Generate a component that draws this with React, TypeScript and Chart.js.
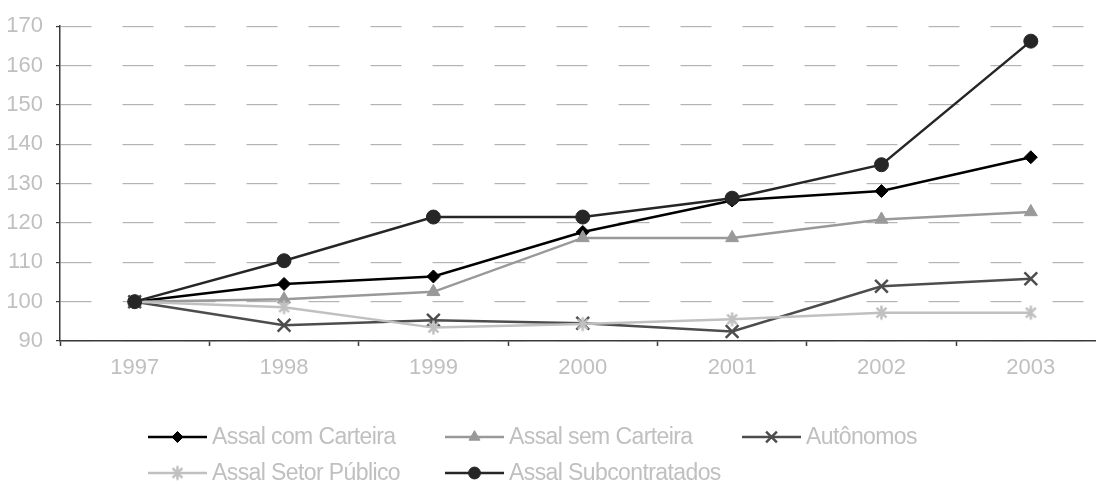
import React, { useEffect, useRef } from "react";
import { Chart, registerables } from "chart.js";
import { drawPoint } from "chart.js/helpers";

Chart.register(...registerables);

// Index values (1997 = 100)
const years = ["1997", "1998", "1999", "2000", "2001", "2002", "2003"];
const comCarteira = [100, 104.5, 106.4, 117.7, 125.7, 128.1, 136.7];
const semCarteira = [100, 100.6, 102.5, 116.2, 116.2, 120.9, 122.8];
const autonomos = [100, 94.0, 95.3, 94.5, 92.4, 103.9, 105.8];
const setorPublico = [100, 98.6, 93.4, 94.3, 95.5, 97.2, 97.2];
const subcontratados = [100, 110.4, 121.5, 121.5, 126.3, 134.8, 166.2];

const seriesNames = [
  "Assal com Carteira",
  "Assal sem Carteira",
  "Autônomos",
  "Assal Setor Público",
  "Assal Subcontratados",
];
const seriesValues = [comCarteira, semCarteira, autonomos, setorPublico, subcontratados];
const seriesColors = ["#000000", "#999999", "#4d4d4d", "#c0c0c0", "#262626"];
const seriesMarkers = ["rectRot", "triangle", "crossRot", "asterisk", "circle"];
const markerSizes = [6.5, 7.5, 9, 7, 7];

const yMin = 90;
const yMax = 170;
const yStep = 10;

const FONT = "'Liberation Sans', Arial, sans-serif";
const TEXT_COLOR = "#c0c0c0";
const AXIS_COLOR = "#3a3a3a";

// legend grid: three columns, two rows
const LEGEND_COLS = [148, 445, 742];
const LEGEND_ROWS = [437, 473];
const LEGEND_LINE = 59;

// asterisk marker (an "x" crossed by a vertical stroke)
function makeAsterisk(color: string, r: number, w: number) {
  const s = Math.ceil(2 * r + w + 2);
  const c = document.createElement("canvas");
  c.width = s;
  c.height = s;
  const g = c.getContext("2d")!;
  const m = s / 2;
  const d = r * Math.SQRT1_2;
  g.strokeStyle = color;
  g.lineWidth = w;
  g.beginPath();
  g.moveTo(m, m - r);
  g.lineTo(m, m + r);
  g.moveTo(m - d, m - d);
  g.lineTo(m + d, m + d);
  g.moveTo(m + d, m - d);
  g.lineTo(m - d, m + d);
  g.stroke();
  return c;
}

const gridLegend = {
  id: "gridLegend",
  afterDraw(chart: any) {
    const ctx: CanvasRenderingContext2D = chart.ctx;
    chart.data.datasets.forEach((ds: any, i: number) => {
      const x0 = LEGEND_COLS[i % 3];
      const y = LEGEND_ROWS[Math.floor(i / 3)];
      ctx.save();
      ctx.strokeStyle = ds.borderColor;
      ctx.fillStyle = ds.backgroundColor;
      ctx.lineWidth = ds.borderWidth;
      ctx.beginPath();
      ctx.moveTo(x0, y);
      ctx.lineTo(x0 + LEGEND_LINE, y);
      ctx.stroke();
      ctx.lineWidth = ds.pointBorderWidth;
      drawPoint(
        ctx,
        { pointStyle: ds.pointStyle, radius: ds.pointRadius * 0.85, rotation: 0, borderWidth: ds.pointBorderWidth },
        x0 + LEGEND_LINE / 2,
        y
      );
      ctx.fillStyle = TEXT_COLOR;
      ctx.font = `23px ${FONT}`;
      ctx.textBaseline = "middle";
      ctx.textAlign = "left";
      (ctx as any).letterSpacing = "-0.6px";
      ctx.fillText(seriesNames[i], x0 + LEGEND_LINE + 5, y + 1);
      ctx.restore();
    });
  },
};

export default function App() {
  const canvasRef = useRef<HTMLCanvasElement | null>(null);

  useEffect(() => {
    if (!canvasRef.current) return;
    const chart = new Chart(canvasRef.current, {
      type: "line",
      data: {
        labels: years,
        datasets: seriesValues.map((vals, i) => {
          const style =
            seriesMarkers[i] === "asterisk" ? makeAsterisk(seriesColors[i], markerSizes[i], 2.5) : seriesMarkers[i];
          return {
            label: seriesNames[i],
            data: vals,
            borderColor: seriesColors[i],
            backgroundColor: seriesColors[i],
            pointBackgroundColor: seriesColors[i],
            pointBorderColor: seriesColors[i],
            borderWidth: 2.5,
            pointBorderWidth: seriesMarkers[i] === "crossRot" ? 2.5 : 1,
            pointStyle: style as any,
            pointRadius: markerSizes[i],
            tension: 0,
            fill: false,
            order: seriesNames.length - i,
          };
        }),
      },
      options: {
        responsive: false,
        animation: false,
        devicePixelRatio: 1,
        layout: { padding: { left: 0, top: 23, right: 5, bottom: 0 } },
        plugins: {
          legend: { display: false },
          tooltip: { enabled: false },
        },
        scales: {
          x: {
            type: "category",
            offset: true,
            grid: {
              offset: true,
              drawOnChartArea: false,
              drawTicks: true,
              tickLength: 5,
              tickColor: AXIS_COLOR,
              tickWidth: 1.5,
            },
            border: { display: true, color: AXIS_COLOR, width: 1.5 },
            ticks: {
              color: TEXT_COLOR,
              font: { family: FONT, size: 22 },
              padding: 9,
              maxRotation: 0,
              autoSkip: false,
            },
            afterFit(scale: any) {
              scale.height = 143;
            },
          },
          y: {
            min: yMin,
            max: yMax,
            grid: {
              color: "#b4b4b4",
              lineWidth: 1.2,
              drawTicks: true,
              tickLength: 4,
              tickColor: AXIS_COLOR,
              tickBorderDash: [],
              tickWidth: 1.2,
            },
            border: { display: true, color: AXIS_COLOR, width: 1.5, dash: [31, 31] },
            ticks: {
              stepSize: yStep,
              color: TEXT_COLOR,
              font: { family: FONT, size: 22 },
              padding: 13,
            },
            afterFit(scale: any) {
              scale.width = 60;
            },
          },
        },
      },
      plugins: [gridLegend],
    });
    return () => chart.destroy();
  }, []);

  return (
    <div
      style={{
        position: "absolute",
        left: 0,
        top: 0,
        width: 1096,
        height: 484,
        overflow: "hidden",
        background: "#ffffff",
      }}
    >
      <canvas ref={canvasRef} width={1117} height={484} style={{ display: "block" }} />
    </div>
  );
}
